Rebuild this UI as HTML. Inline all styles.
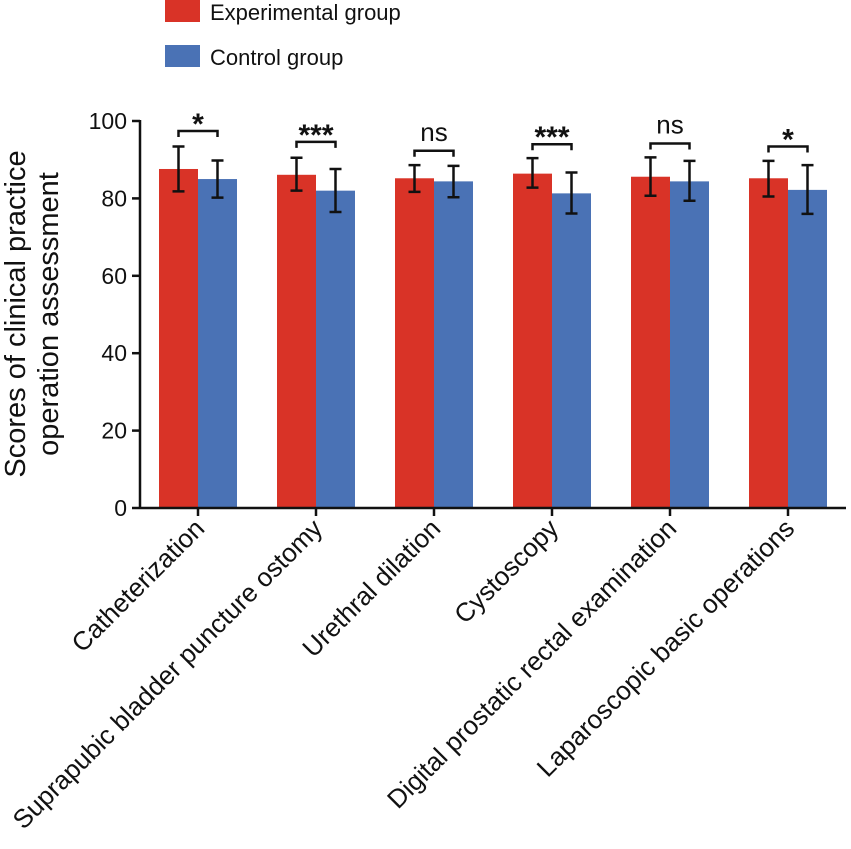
<!DOCTYPE html>
<html><head><meta charset="utf-8"><style>
html,body{margin:0;padding:0;background:#fff}
svg{display:block;font-family:"Liberation Sans",Arial,sans-serif}
</style></head><body>
<svg id="chart" width="851" height="849" viewBox="0 0 851 849">
<g>
 <rect x="165" y="0" width="35" height="22" fill="#d93327"/>
 <text x="210" y="20" font-size="22" fill="#111">Experimental group</text>
 <rect x="165" y="45" width="35" height="22" fill="#4a72b5"/>
 <text x="210" y="65" font-size="22" fill="#111">Control group</text>
</g>
<text transform="translate(25,314) rotate(-90)" text-anchor="middle" font-size="29" fill="#111"><tspan x="0" dy="0">Scores of clinical practice</tspan><tspan x="0" dy="33">operation assessment</tspan></text>
<g id="plot"></g>
</svg>
<script>
const categories=["Catheterization","Suprapubic bladder puncture ostomy","Urethral dilation","Cystoscopy","Digital prostatic rectal examination","Laparoscopic basic operations"];
const expMean=[87.6,86.1,85.2,86.4,85.6,85.2];
const expUpper=[93.4,90.5,88.6,90.4,90.6,89.7];
const expLower=[81.8,82.0,81.7,82.8,80.7,80.5];
const ctlMean=[85.0,82.0,84.4,81.3,84.4,82.2];
const ctlUpper=[89.8,87.6,88.4,86.7,89.7,88.6];
const ctlLower=[80.2,76.5,80.3,76.1,79.4,76.0];
const sigLabels=["*","***","ns","***","ns","*"];
const bracketLevel=[97.4,94.6,92.3,94.0,94.2,93.4];
const yTicks=[0,20,40,60,80,100];

const NS="http://www.w3.org/2000/svg";
const plot=document.getElementById('plot');
const y0=508,yTop=121,axisX=140;
const y=v=>y0-(v/100)*(y0-yTop);
const groupStart=i=>159+i*118;
const bw=39;
function mk(tag,attrs){const e=document.createElementNS(NS,tag);for(const k in attrs)e.setAttribute(k,attrs[k]);plot.appendChild(e);return e;}

categories.forEach((c,i)=>{
  const gx=groupStart(i);
  const r=mk('rect',{x:gx,y:y(expMean[i]),width:bw,height:y0-y(expMean[i]),fill:'#d93327'});
  
  
  const b=mk('rect',{x:gx+bw,y:y(ctlMean[i]),width:bw,height:y0-y(ctlMean[i]),fill:'#4a72b5'});
  
  
  [[gx+bw/2,expUpper[i],expLower[i],'experimental'],[gx+bw*1.5,ctlUpper[i],ctlLower[i],'control']].forEach(([cx,u,l,n])=>{
    const p=mk('path',{d:`M${cx},${y(u)}V${y(l)}M${cx-6},${y(u)}h12M${cx-6},${y(l)}h12`,stroke:'#111','stroke-width':2.5,fill:'none'});
    
    
  });
  const by=y(bracketLevel[i]);
  const br=mk('path',{d:`M${gx+bw/2},${by+6}V${by}H${gx+bw*1.5}V${by+6}`,stroke:'#111','stroke-width':2.5,fill:'none'});
  
  
  const isNs=sigLabels[i]==='ns';
  const t=mk('text',{x:gx+bw,y:isNs?by-10:by+3,'text-anchor':'middle','font-size':isNs?26:30,'font-weight':isNs?'normal':'bold',fill:'#111'});
  t.textContent=sigLabels[i];
  
  
  const tk=mk('line',{x1:gx+bw,x2:gx+bw,y1:y0,y2:y0+8,stroke:'#111','stroke-width':2.5});
  
  
  const lt=mk('text',{transform:`translate(${gx+bw+8},${y0+22}) rotate(-45)`,'text-anchor':'end','font-size':26,fill:'#111'});
  lt.textContent=c;
  
  
});
yTicks.forEach(v=>{
  const l=mk('line',{x1:axisX-8,x2:axisX,y1:y(v),y2:y(v),stroke:'#111','stroke-width':2.5});
  
  
  const t=mk('text',{x:axisX-13,y:y(v)+8,'text-anchor':'end','font-size':23,fill:'#111'});
  t.textContent=v;
  
  
});
const ya=mk('line',{x1:axisX,x2:axisX,y1:yTop-1,y2:y0+1,stroke:'#111','stroke-width':2.5});


const xa=mk('line',{x1:axisX,x2:846,y1:y0,y2:y0,stroke:'#111','stroke-width':2.5});


</script>
</body></html>
